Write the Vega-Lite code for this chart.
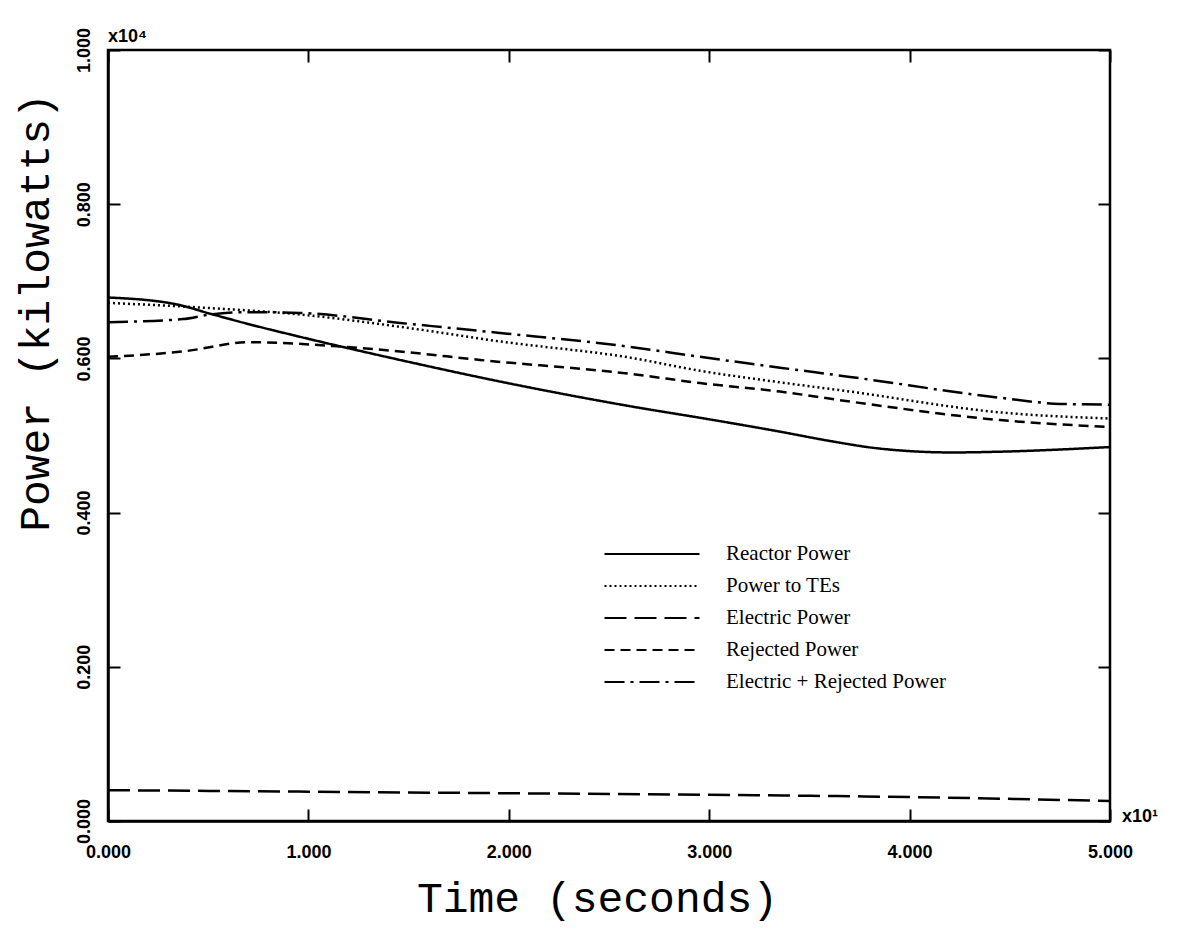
{
  "$schema": "https://vega.github.io/schema/vega-lite/v6.json",
  "width": 1002,
  "height": 771,
  "autosize": {"type": "none"},
  "padding": {"left": 108, "top": 50, "right": 69, "bottom": 109},
  "background": "white",
  "config": {
    "view": {"stroke": "black", "strokeWidth": 2.5},
    "axis": {
      "domainColor": "black",
      "domainWidth": 2.5,
      "tickColor": "black",
      "tickWidth": 2,
      "tickSize": -12,
      "grid": false,
      "labelFont": "Liberation Sans",
      "labelFontWeight": "bold",
      "labelFontSize": 18,
      "labelColor": "black",
      "titleFont": "Liberation Mono",
      "titleFontWeight": "normal",
      "titleFontSize": 43,
      "titleColor": "black"
    }
  },
  "datasets": {
    "curves": [
      {"series": "Reactor Power", "t": 0.0, "p": 0.679},
      {"series": "Reactor Power", "t": 0.344, "p": 0.670},
      {"series": "Reactor Power", "t": 0.509, "p": 0.658},
      {"series": "Reactor Power", "t": 0.709, "p": 0.644},
      {"series": "Reactor Power", "t": 0.958, "p": 0.628},
      {"series": "Reactor Power", "t": 1.457, "p": 0.598},
      {"series": "Reactor Power", "t": 1.956, "p": 0.570},
      {"series": "Reactor Power", "t": 2.605, "p": 0.538},
      {"series": "Reactor Power", "t": 3.0, "p": 0.521},
      {"series": "Reactor Power", "t": 3.353, "p": 0.505},
      {"series": "Reactor Power", "t": 3.6, "p": 0.493},
      {"series": "Reactor Power", "t": 3.852, "p": 0.483},
      {"series": "Reactor Power", "t": 4.216, "p": 0.478},
      {"series": "Reactor Power", "t": 4.451, "p": 0.479},
      {"series": "Reactor Power", "t": 5.0, "p": 0.485},
      {"series": "Power to TEs", "t": 0.0, "p": 0.672},
      {"series": "Power to TEs", "t": 0.459, "p": 0.666},
      {"series": "Power to TEs", "t": 0.958, "p": 0.657},
      {"series": "Power to TEs", "t": 1.457, "p": 0.641},
      {"series": "Power to TEs", "t": 1.956, "p": 0.622},
      {"series": "Power to TEs", "t": 2.605, "p": 0.601},
      {"series": "Power to TEs", "t": 2.954, "p": 0.584},
      {"series": "Power to TEs", "t": 3.353, "p": 0.569},
      {"series": "Power to TEs", "t": 3.703, "p": 0.557},
      {"series": "Power to TEs", "t": 4.451, "p": 0.530},
      {"series": "Power to TEs", "t": 5.0, "p": 0.522},
      {"series": "Electric Power", "t": 0.0, "p": 0.040},
      {"series": "Electric Power", "t": 1.0, "p": 0.038},
      {"series": "Electric Power", "t": 2.0, "p": 0.036},
      {"series": "Electric Power", "t": 3.0, "p": 0.034},
      {"series": "Electric Power", "t": 4.0, "p": 0.031},
      {"series": "Electric Power", "t": 5.0, "p": 0.026},
      {"series": "Rejected Power", "t": 0.0, "p": 0.602},
      {"series": "Rejected Power", "t": 0.374, "p": 0.609},
      {"series": "Rejected Power", "t": 0.709, "p": 0.621},
      {"series": "Rejected Power", "t": 0.873, "p": 0.620},
      {"series": "Rejected Power", "t": 1.123, "p": 0.616},
      {"series": "Rejected Power", "t": 1.457, "p": 0.609},
      {"series": "Rejected Power", "t": 1.856, "p": 0.598},
      {"series": "Rejected Power", "t": 2.605, "p": 0.580},
      {"series": "Rejected Power", "t": 2.954, "p": 0.568},
      {"series": "Rejected Power", "t": 3.353, "p": 0.557},
      {"series": "Rejected Power", "t": 3.703, "p": 0.544},
      {"series": "Rejected Power", "t": 4.451, "p": 0.520},
      {"series": "Rejected Power", "t": 5.0, "p": 0.511},
      {"series": "Electric + Rejected Power", "t": 0.0, "p": 0.647},
      {"series": "Electric + Rejected Power", "t": 0.374, "p": 0.651},
      {"series": "Electric + Rejected Power", "t": 0.509, "p": 0.657},
      {"series": "Electric + Rejected Power", "t": 0.709, "p": 0.660},
      {"series": "Electric + Rejected Power", "t": 0.958, "p": 0.659},
      {"series": "Electric + Rejected Power", "t": 1.457, "p": 0.646},
      {"series": "Electric + Rejected Power", "t": 1.956, "p": 0.633},
      {"series": "Electric + Rejected Power", "t": 2.605, "p": 0.615},
      {"series": "Electric + Rejected Power", "t": 2.954, "p": 0.602},
      {"series": "Electric + Rejected Power", "t": 3.353, "p": 0.588},
      {"series": "Electric + Rejected Power", "t": 3.703, "p": 0.576},
      {"series": "Electric + Rejected Power", "t": 4.451, "p": 0.549},
      {"series": "Electric + Rejected Power", "t": 4.75, "p": 0.541},
      {"series": "Electric + Rejected Power", "t": 5.0, "p": 0.540}
    ],
    "noteTop": [
      {"t": 0.0, "p": 1.0, "label": "x10⁴"}
    ],
    "noteRight": [
      {"t": 5.0, "p": 0.0, "label": "x10¹"}
    ]
  },
  "layer": [
    {
      "data": {"name": "curves"},
      "mark": {"type": "line", "color": "black", "strokeWidth": 2.5, "interpolate": "monotone"},
      "encoding": {
        "x": {
          "field": "t", "type": "quantitative",
          "scale": {"domain": [0, 5], "nice": false, "zero": false},
          "axis": {"orient": "bottom", "values": [0, 1, 2, 3, 4, 5], "format": ".3f", "title": "Time (seconds)", "labelPadding": 34, "titlePadding": 16, "labelFlush": false, "titleX": 489}
        },
        "y": {
          "field": "p", "type": "quantitative",
          "scale": {"domain": [0, 1], "nice": false},
          "axis": {"orient": "left", "values": [0, 0.2, 0.4, 0.6, 0.8, 1.0], "format": ".3f", "title": "Power (kilowatts)", "labelAngle": -90, "labelAlign": "center", "labelBaseline": "bottom", "labelPadding": 27, "titlePadding": 18, "labelFlush": false, "titleY": 262}
        },
        "detail": {"field": "series"},
        "strokeDash": {
          "field": "series", "type": "nominal",
          "scale": {
            "domain": ["Reactor Power", "Power to TEs", "Electric Power", "Rejected Power", "Electric + Rejected Power"],
            "range": [[1, 0], [2, 3], [22, 8], [10, 6], [20, 6, 3, 6]]
          },
          "legend": {
            "title": null,
            "orient": "none",
            "legendX": 531,
            "legendY": 491,
            "symbolType": "M-4,0H4",
            "symbolSize": 564,
            "symbolStrokeWidth": 2.2,
            "symbolStrokeColor": "black",
            "labelFont": "Liberation Serif",
            "labelFontSize": 21,
            "labelColor": "black",
            "labelOffset": 61,
            "labelLimit": 400,
            "rowPadding": 9
          }
        }
      }
    },
    {
      "data": {"name": "noteTop"},
      "mark": {"type": "text", "font": "Liberation Sans", "fontWeight": "bold", "fontSize": 18, "color": "black", "align": "left", "baseline": "bottom", "dx": 0, "dy": -4},
      "encoding": {
        "x": {"field": "t", "type": "quantitative", "axis": {"orient": "top", "values": [0, 1, 2, 3, 4, 5], "labels": false, "title": null, "domain": false}},
        "y": {"field": "p", "type": "quantitative", "axis": {"orient": "right", "values": [0, 0.2, 0.4, 0.6, 0.8, 1.0], "labels": false, "title": null, "domain": false}},
        "text": {"field": "label"}
      }
    },
    {
      "data": {"name": "noteRight"},
      "mark": {"type": "text", "font": "Liberation Sans", "fontWeight": "bold", "fontSize": 18, "color": "black", "align": "left", "baseline": "middle", "dx": 12, "dy": -4},
      "encoding": {
        "x": {"field": "t", "type": "quantitative", "axis": null},
        "y": {"field": "p", "type": "quantitative", "axis": null},
        "text": {"field": "label"}
      }
    }
  ],
  "resolve": {"axis": {"x": "independent", "y": "independent"}}
}
